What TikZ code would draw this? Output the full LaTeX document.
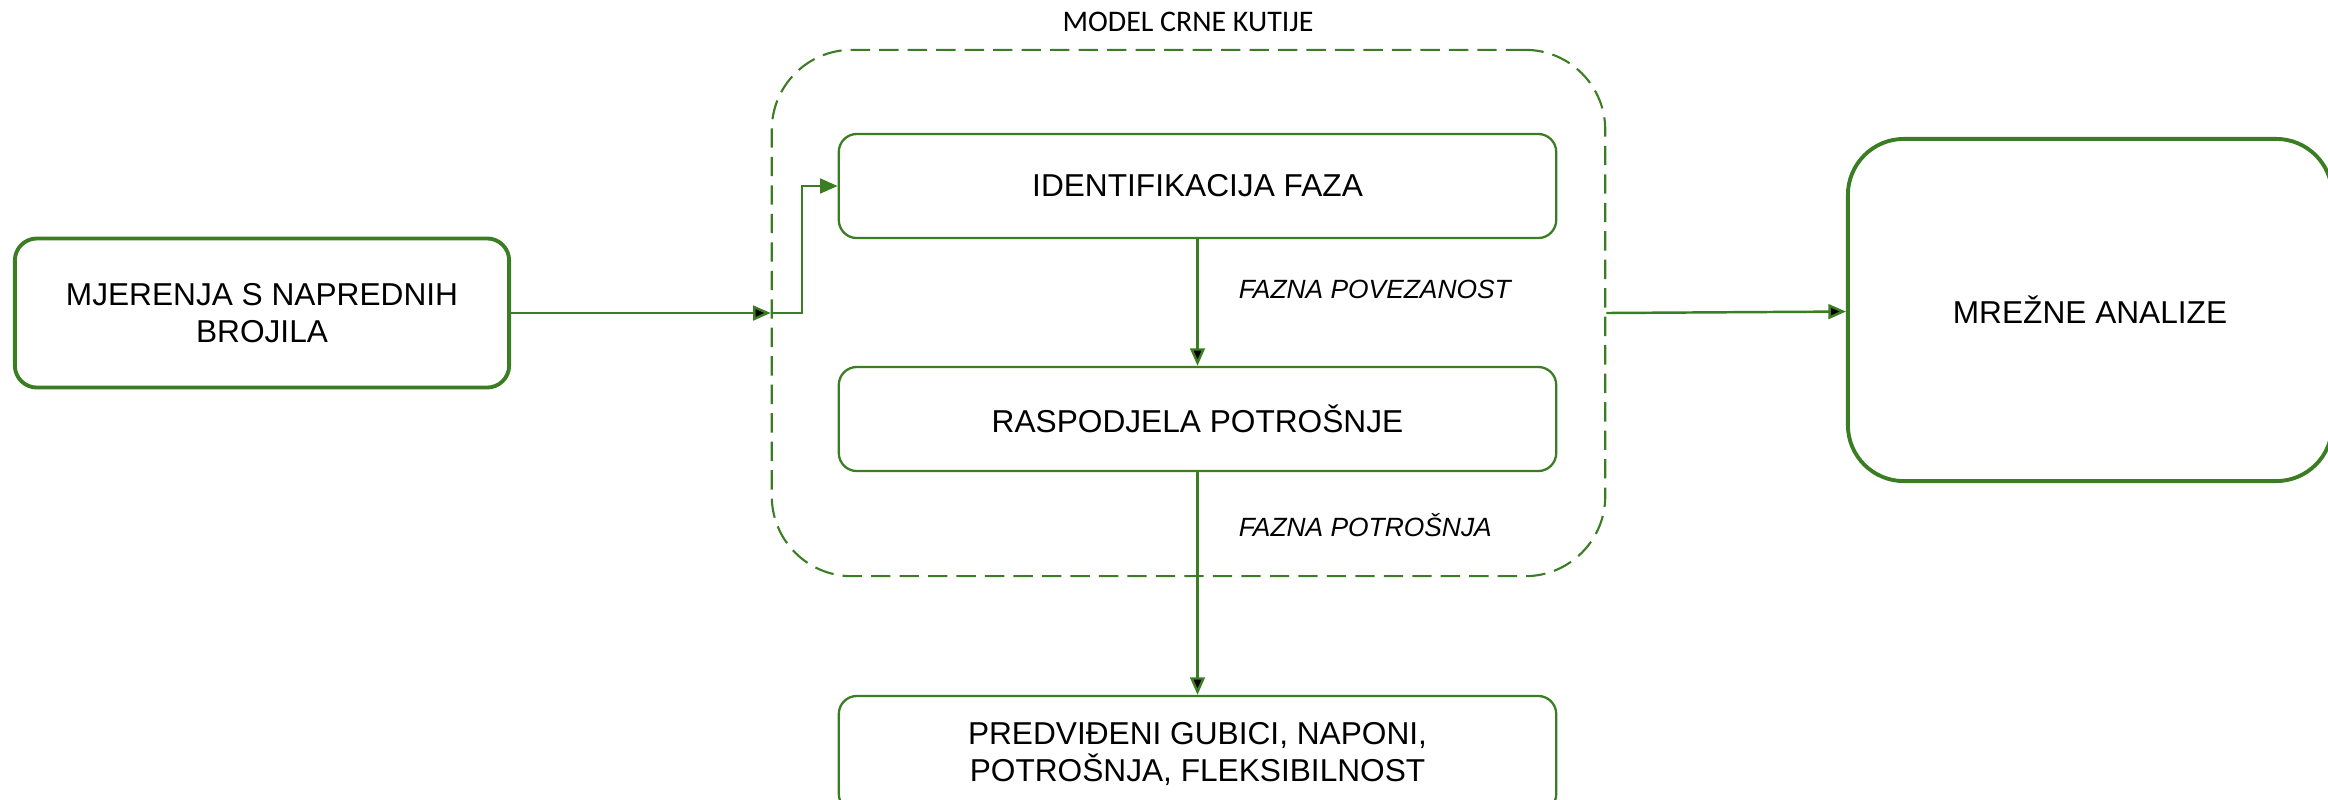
\documentclass[tikz,border=0pt]{standalone}
\usepackage{fontspec}
\setmainfont{Liberation Sans}
\newfontfamily\calibrifont{Carlito}
\usetikzlibrary{arrows.meta}
\definecolor{boxgreen}{RGB}{58,125,35}

\begin{document}
\begin{tikzpicture}[x=0.01cm,y=-0.01cm,>={Triangle[length=5pt,width=4.2pt]}]
        \tikzstyle{bigbox}=[draw=boxgreen,line width=1.1pt,align=center,font=\fontsize{9}{10.4}\selectfont]
        \tikzstyle{stepbox}=[draw=boxgreen,line width=0.65pt,rounded corners=0.18cm,align=center,minimum width=7.17cm,font=\fontsize{9}{10.4}\selectfont]
        \tikzstyle{flow}=[font=\itshape\fontsize{7.5}{9}\selectfont,anchor=west,inner sep=0pt,xshift=0.4cm]
        \tikzstyle{edge}=[draw=boxgreen,line width=0.7pt]
        \useasboundingbox (0,0) rectangle (2328,799);
       \begin{scope}
         \node [draw=boxgreen,line width=0.6pt,dash pattern=on 5.5pt off 2.6pt,rounded corners=0.8cm,minimum width=8.33cm,minimum height=5.26cm] (blackbox) at (1188.5,313) {};
         \node [font=\calibrifont\fontsize{8.5}{10}\selectfont] (bblabel) at (1188,22) {MODEL CRNE KUTIJE};
         \node [bigbox,rounded corners=0.22cm,minimum width=4.94cm,minimum height=1.49cm] (meter) at (262,313) {MJERENJA S NAPREDNIH\\BROJILA};
         \node [stepbox,minimum height=1.04cm] (ident) at (1197.5,186) {IDENTIFIKACIJA FAZA};
         \node [stepbox,minimum height=1.04cm] (rasp) at (1197.5,419) {RASPODJELA POTROŠNJE};
         \node [stepbox,minimum height=1.16cm] (pred) at (1197.5,754) {PREDVIĐENI GUBICI, NAPONI,\\POTROŠNJA, FLEKSIBILNOST};
         \node [bigbox,rounded corners=0.56cm,minimum width=4.84cm,minimum height=3.42cm] (analysis) at (2090,310) {MREŽNE ANALIZE};
         \coordinate (split) at (802,313);
         \path[edge] (meter) edge[->] (blackbox.west |- meter);
         \draw[edge,->] (blackbox.west |- meter) -- (split) |- (ident);
         \path[edge] (ident) edge[->] node[flow,pos=0.4] {FAZNA POVEZANOST} (rasp);
         \path[edge] (rasp) edge[->] node[flow,pos=0.236] {FAZNA POTROŠNJA} (pred);
         \path[edge] (blackbox.east |- meter) edge[->] (analysis);
        \end{scope}
      \end{tikzpicture}
\end{document}
